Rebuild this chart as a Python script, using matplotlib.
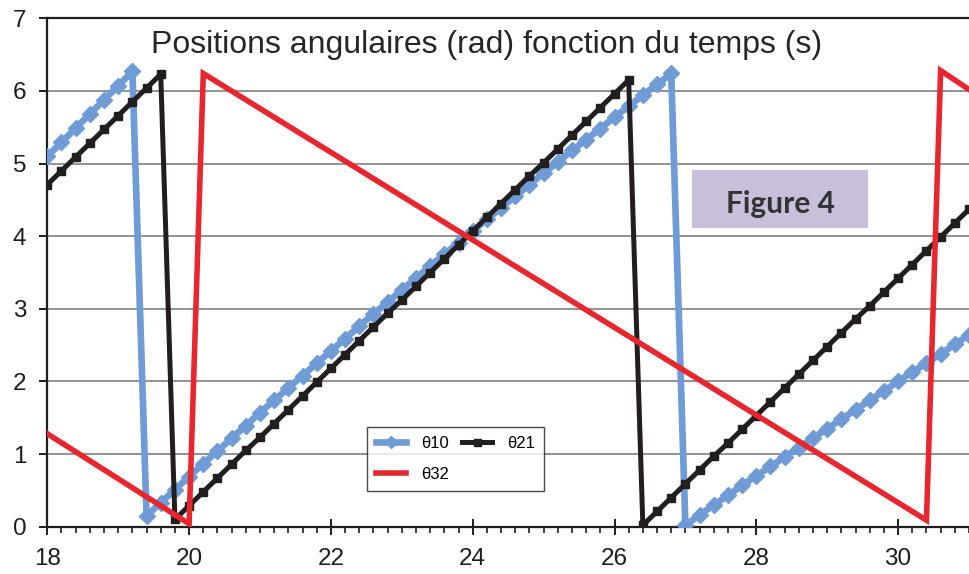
import matplotlib
matplotlib.use("Agg")
import matplotlib.pyplot as plt
from matplotlib.patches import Rectangle
from matplotlib.ticker import MultipleLocator

# ---------------- data ----------------
# theta10 (blue), sampled every 0.2 s
t10 = [18.0, 18.2, 18.4, 18.6, 18.8, 19.0, 19.2,
       19.4, 19.6, 19.8, 20.0, 20.2, 20.4, 20.6, 20.8, 21.0, 21.2,
       21.4, 21.6, 21.8, 22.0, 22.2, 22.4, 22.6, 22.8, 23.0, 23.2,
       23.4, 23.6, 23.8, 24.0, 24.2, 24.4, 24.6, 24.8, 25.0, 25.2,
       25.4, 25.6, 25.8, 26.0, 26.2, 26.4, 26.6, 26.8,
       27.0, 27.2, 27.4, 27.6, 27.8, 28.0, 28.2, 28.4, 28.6, 28.8,
       29.0, 29.2, 29.4, 29.6, 29.8, 30.0, 30.2, 30.4, 30.6, 30.8, 31.0]
theta10 = [5.10, 5.29, 5.49, 5.68, 5.88, 6.07, 6.27,
           0.15, 0.33, 0.51, 0.69, 0.87, 1.04, 1.22, 1.39, 1.57, 1.74,
           1.91, 2.08, 2.25, 2.42, 2.59, 2.76, 2.93, 3.09, 3.26, 3.42,
           3.59, 3.75, 3.91, 4.07, 4.23, 4.39, 4.55, 4.71, 4.87, 5.02,
           5.18, 5.33, 5.48, 5.64, 5.79, 5.94, 6.09, 6.24,
           0.02, 0.16, 0.30, 0.43, 0.57, 0.70, 0.83, 0.96, 1.09, 1.22,
           1.35, 1.48, 1.61, 1.74, 1.87, 2.00, 2.13, 2.25, 2.38, 2.51, 2.64]

# theta21 (black), sampled every 0.2 s
t21 = [18.0, 18.2, 18.4, 18.6, 18.8, 19.0, 19.2, 19.4, 19.6,
       19.8, 20.0, 20.2, 20.4, 20.6, 20.8, 21.0, 21.2, 21.4, 21.6,
       21.8, 22.0, 22.2, 22.4, 22.6, 22.8, 23.0, 23.2, 23.4, 23.6,
       23.8, 24.0, 24.2, 24.4, 24.6, 24.8, 25.0, 25.2, 25.4, 25.6,
       25.8, 26.0, 26.2,
       26.4, 26.6, 26.8, 27.0, 27.2, 27.4, 27.6, 27.8, 28.0, 28.2,
       28.4, 28.6, 28.8, 29.0, 29.2, 29.4, 29.6, 29.8, 30.0, 30.2,
       30.4, 30.6, 30.8, 31.0]
theta21 = [4.71, 4.90, 5.09, 5.28, 5.47, 5.66, 5.85, 6.04, 6.23,
           0.10, 0.29, 0.48, 0.67, 0.86, 1.05, 1.23, 1.42, 1.61, 1.80,
           1.99, 2.18, 2.37, 2.56, 2.75, 2.94, 3.12, 3.31, 3.50, 3.69,
           3.88, 4.07, 4.26, 4.45, 4.64, 4.83, 5.01, 5.20, 5.39, 5.58,
           5.77, 5.96, 6.15,
           0.02, 0.21, 0.40, 0.59, 0.78, 0.97, 1.15, 1.34, 1.53, 1.72,
           1.91, 2.10, 2.29, 2.48, 2.67, 2.86, 3.04, 3.23, 3.42, 3.61,
           3.80, 3.99, 4.18, 4.37]

# theta32 (red), vertices of the polyline
t32 = [18.0, 20.0, 20.2, 30.4, 30.6, 31.0]
theta32 = [1.28, 0.04, 6.24, 0.09, 6.28, 6.02]

series_labels = ["θ10", "θ21", "θ32"]
x_ticks = [18, 20, 22, 24, 26, 28, 30]
y_ticks = [0, 1, 2, 3, 4, 5, 6, 7]
title_text = "Positions angulaires (rad) fonction du temps (s)"
box_text = "Figure 4"

# ---------------- figure ----------------
W, H = 969, 574
fig = plt.figure(figsize=(W / 100, H / 100), dpi=100)
fig.patch.set_facecolor("white")

left_px, right_px, top_px, bottom_px = 47.3, 969, 18.3, 526.7
ax = fig.add_axes([left_px / W, 1 - bottom_px / H,
                   (right_px - left_px) / W, (bottom_px - top_px) / H])

blue = "#6f9bd6"
black = "#221e1f"
red = "#e8262d"

l10, = ax.plot(t10, theta10, color=blue, lw=4.8, marker="D", ms=8,
               mec=blue, mfc=blue, zorder=3, solid_joinstyle="round")
l21, = ax.plot(t21, theta21, color=black, lw=3.6, marker="s", ms=6.3,
               mec=black, mfc=black, zorder=4, solid_joinstyle="round")
l32, = ax.plot(t32, theta32, color=red, lw=4.0, zorder=5,
               solid_joinstyle="miter")

ax.set_xlim(18, 31)
ax.set_ylim(0, 7)
ax.set_xticks(x_ticks)
ax.set_yticks(y_ticks)
ax.xaxis.set_minor_locator(MultipleLocator(0.2))

for s in ["left", "top", "bottom"]:
    ax.spines[s].set_color("#1e1e1e")
    ax.spines[s].set_linewidth(1.6)
ax.spines["right"].set_visible(False)

ax.set_axisbelow(True)
ax.yaxis.grid(True, color="#8a8a8a", lw=1.3)

tick_font = "Liberation Sans"
ax.tick_params(axis="x", which="major", direction="inout", length=12,
               width=1.4, color="#1e1e1e", pad=9, labelsize=17.5,
               labelcolor="#1e1e1e")
ax.tick_params(axis="x", which="minor", direction="out", length=4,
               width=1.2, color="#1e1e1e")
ax.tick_params(axis="y", which="major", direction="out", length=6,
               width=1.4, color="#1e1e1e", pad=9, labelsize=17.5,
               labelcolor="#1e1e1e")
for lab in ax.get_xticklabels() + ax.get_yticklabels():
    lab.set_fontfamily(tick_font)

# title inside plot
fig.text(487 / W, 1 - 52.5 / H, title_text, ha="center", va="baseline",
         fontsize=23, family="Liberation Sans", color="#262626")

# Figure 4 box
rect = Rectangle((691.7 / W, 1 - 228 / H), 176.6 / W, 58 / H,
                 transform=fig.transFigure, facecolor="#c9bfda",
                 edgecolor="none", zorder=6)
fig.add_artist(rect)
fig.text(781 / W, 1 - 213 / H, box_text, ha="center", va="baseline",
         fontsize=21.5, fontweight="bold", family="Lato", color="#333333",
         zorder=7)

# legend
leg = ax.legend([l10, l32, l21], [series_labels[0], series_labels[2], series_labels[1]],
                ncol=2, loc="lower left",
                bbox_to_anchor=((367 - left_px) / (right_px - left_px),
                                (bottom_px - 491) / (bottom_px - top_px)),
                borderaxespad=0, frameon=True, fancybox=False,
                prop={"family": "Liberation Sans", "size": 12},
                handlelength=1.8, handletextpad=0.9, columnspacing=0.8,
                labelspacing=0.95, borderpad=0.55, markerscale=0.8)
leg.get_frame().set_edgecolor("#1e1e1e")
leg.get_frame().set_linewidth(1.0)
leg.set_zorder(8)

fig.savefig("out.png", dpi=100)
